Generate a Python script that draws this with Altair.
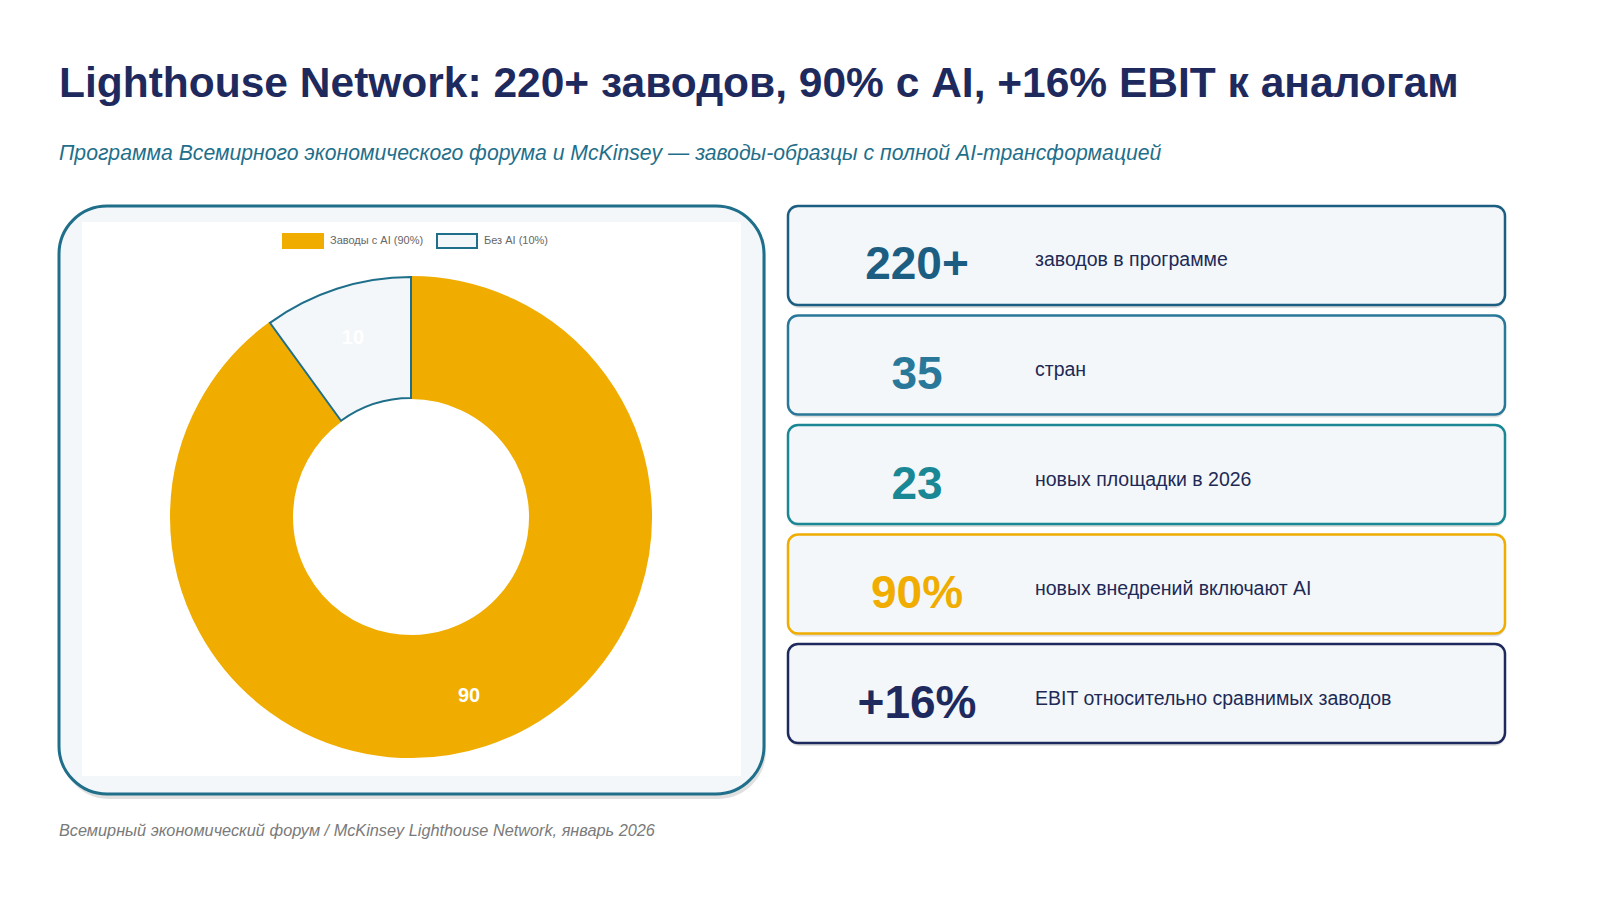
import altair as alt
import pandas as pd

TITLE = "Lighthouse Network: 220+ заводов, 90% с AI, +16% EBIT к аналогам"
SUBTITLE = ("Программа Всемирного экономического форума и McKinsey — "
            "заводы-образцы с полной AI-трансформацией")
SOURCE = "Всемирный экономический форум / McKinsey Lighthouse Network, январь 2026"

# donut
slices = ["Заводы с AI (90%)", "Без AI (10%)"]
slice_values = [90, 10]

# KPI cards
kpi_values = ["220+", "35", "23", "90%", "+16%"]
kpi_labels = [
    "заводов в программе",
    "стран",
    "новых площадки в 2026",
    "новых внедрений включают AI",
    "EBIT относительно сравнимых заводов",
]

NAVY = "#1e2a5e"
TEAL = "#1f6f8b"
GOLD = "#f0ad00"
LIGHT = "#f3f7fa"
TEXT = "#1e2a55"
kpi_colors = ["#1b5e82", "#2a7899", "#1a8795", GOLD, NAVY]

FONT = "Liberation Sans"
W, H = 1584, 884

one = alt.Chart(pd.DataFrame({"k": [0]}))

# left panel
panel_shadow = one.mark_rect(cornerRadius=48, fill="#000", opacity=0.12).encode(
    x=alt.value(53), x2=alt.value(758), y=alt.value(202), y2=alt.value(791))
panel = one.mark_rect(cornerRadius=48, fill=LIGHT, stroke=TEAL, strokeWidth=3).encode(
    x=alt.value(51), x2=alt.value(756), y=alt.value(198), y2=alt.value(786))
inner = one.mark_rect(fill="white").encode(
    x=alt.value(74), x2=alt.value(733), y=alt.value(214), y2=alt.value(768))

donut_df = pd.DataFrame({"slice": slices, "value": slice_values, "order": range(len(slices))})
legend = alt.Legend(
    orient="none", legendX=274, legendY=212, direction="horizontal", title=None,
    symbolType="M-1,-0.35L1,-0.35L1,0.35L-1,0.35Z", symbolSize=1600, symbolStrokeWidth=2,
    labelFont=FONT, labelFontSize=11, labelColor="#666", labelOffset=6, columnPadding=9,
    padding=0,
)
donut = alt.Chart(donut_df).mark_arc(outerRadius=240, innerRadius=119, strokeWidth=2).encode(
    theta=alt.Theta("value:Q", stack=True),
    order=alt.Order("order:Q"),
    color=alt.Color("slice:N", scale=alt.Scale(domain=slices, range=[GOLD, LIGHT]), legend=legend),
    stroke=alt.Stroke("slice:N", scale=alt.Scale(domain=slices, range=[GOLD, TEAL]), legend=legend),
    x=alt.value(403), y=alt.value(509),
)
donut_text = alt.Chart(donut_df).mark_text(
    radius=188, font=FONT, fontSize=20, fontWeight="bold", color="white"
).encode(
    theta=alt.Theta("value:Q", stack=True),
    order=alt.Order("order:Q"),
    text=alt.Text("value:Q"),
    x=alt.value(403), y=alt.value(509),
)

# cards
cards_df = pd.DataFrame({"idx": range(len(kpi_values)), "value": kpi_values,
                         "label": kpi_labels, "c": kpi_colors})
yband = alt.Y("idx:O", axis=None,
              scale=alt.Scale(range=[198, 735], paddingInner=0.096, paddingOuter=0))
cards = alt.Chart(cards_df)
card_shadow = cards.mark_rect(cornerRadius=10, fill="#000", opacity=0.13, yOffset=3, xOffset=1).encode(
    y=yband, x=alt.value(780), x2=alt.value(1497))
card_box = cards.mark_rect(cornerRadius=10, fill=LIGHT, strokeWidth=2.5).encode(
    y=yband, x=alt.value(780), x2=alt.value(1497), stroke=alt.Stroke("c:N", scale=None))
card_num = cards.mark_text(font=FONT, fontSize=46, fontWeight="bold", align="center",
                           baseline="alphabetic", dy=24).encode(
    y=yband, x=alt.value(909), text="value:N", color=alt.Color("c:N", scale=None))
card_lbl = cards.mark_text(font=FONT, fontSize=19.5, color=TEXT, align="left",
                           baseline="alphabetic", dy=11).encode(
    y=yband, x=alt.value(1027), text="label:N")

# headings
title = one.mark_text(text=TITLE, font=FONT, fontSize=42.5, fontWeight="bold", color=NAVY,
                      align="left", baseline="alphabetic").encode(x=alt.value(51), y=alt.value(89))
subtitle = one.mark_text(text=SUBTITLE, font=FONT, fontSize=21.2, fontStyle="italic", color=TEAL,
                         align="left", baseline="alphabetic").encode(x=alt.value(51), y=alt.value(152))
source = one.mark_text(text=SOURCE, font=FONT, fontSize=16.3, fontStyle="italic", color="#7a7a7a",
                       align="left", baseline="alphabetic").encode(x=alt.value(51), y=alt.value(828))

chart = alt.layer(
    panel_shadow, panel, inner, donut, donut_text,
    card_shadow, card_box, card_num, card_lbl,
    title, subtitle, source,
).resolve_scale(color="independent", stroke="independent").properties(
    width=W, height=H, padding=0, autosize=alt.AutoSizeParams(type="none"),
    background="white",
).configure_view(stroke=None)

chart.save("out.html", embed_options={"renderer": "svg", "actions": False})
